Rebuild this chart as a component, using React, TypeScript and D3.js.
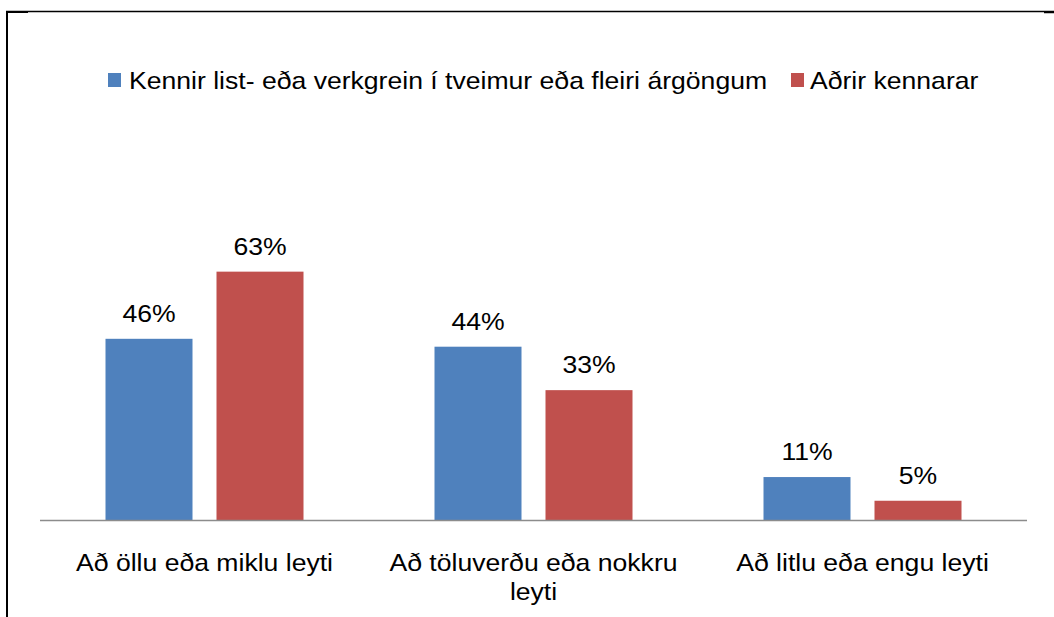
import React from "react";
import * as d3 from "d3";

const categories: string[][] = [
  ["Að öllu eða miklu leyti"],
  ["Að töluverðu eða nokkru", "leyti"],
  ["Að litlu eða engu leyti"],
];
const seriesNames = [
  "Kennir list- eða verkgrein í tveimur eða fleiri árgöngum",
  "Aðrir kennarar",
];
const seriesA = [46, 44, 11];
const seriesB = [63, 33, 5];
const colors = ["#4F81BD", "#C0504D"];

const W = 1054;
const H = 617;
const FS = 24;
const SX = 1.108;

export default function App() {
  const catKeys = categories.map((c) => c.join(" "));
  const x0 = d3.scaleBand<string>().domain(catKeys).range([40, 1027]);
  const x1 = d3
    .scaleBand<number>()
    .domain([0, 1])
    .range([65.5, x0.bandwidth() - 65.5])
    .paddingInner(24 / 111);
  const y = d3.scaleLinear().domain([0, 70]).range([520.5, 244]);
  const data = [seriesA, seriesB];
  const font = "'Liberation Sans', Arial, sans-serif";

  const T = (props: { x: number; y: number; anchor?: string; children: React.ReactNode }) => (
    <text
      transform={`translate(${props.x},${props.y}) scale(${SX},1)`}
      textAnchor={props.anchor || "middle"}
      fontFamily={font}
      fontSize={FS}
      fill="#000"
    >
      {props.children}
    </text>
  );

  const legendItems = [
    { sx: 108, tx: 129 },
    { sx: 791, tx: 810 },
  ];

  return (
    <svg
      width={W}
      height={H}
      style={{ position: "absolute", left: 0, top: 0, background: "#fff" }}
    >
      <rect x={0} y={0} width={W} height={H} fill="#fff" />
      {/* border */}
      <line x1={6} x2={W} y1={11.5} y2={11.5} stroke="#000" strokeWidth={1.5} />
      <line x1={6} x2={28} y1={12} y2={12} stroke="#000" strokeWidth={2} />
      <line x1={1044} x2={W} y1={12.5} y2={12.5} stroke="#000" strokeWidth={1.5} />
      <line x1={7} x2={7} y1={11} y2={H} stroke="#000" strokeWidth={2} />
      {/* legend */}
      {seriesNames.map((s, i) => (
        <g key={s}>
          <rect x={legendItems[i].sx} y={73} width={13} height={14} fill={colors[i]} />
          <T x={legendItems[i].tx} y={89} anchor="start">
            {s}
          </T>
        </g>
      ))}
      {/* bars */}
      {catKeys.map((c, ci) => (
        <g key={c} transform={`translate(${x0(c)},0)`}>
          {data.map((vals, si) => {
            const bx = x1(si)!;
            const bw = x1.bandwidth();
            const v = vals[ci];
            return (
              <g key={si}>
                <rect
                  x={bx}
                  y={y(v)}
                  width={bw}
                  height={y(0) - y(v)}
                  fill={colors[si]}
                />
                <T x={bx + bw / 2} y={y(v) - 17}>
                  {v}%
                </T>
              </g>
            );
          })}
        </g>
      ))}
      {/* baseline */}
      <line x1={40} x2={1027} y1={520.5} y2={520.5} stroke="#8C8C8C" strokeWidth={1.5} />
      {/* category labels */}
      {categories.map((lines, ci) => {
        const cx = x0(catKeys[ci])! + x0.bandwidth() / 2;
        return lines.map((ln, li) => (
          <T key={ci + "-" + li} x={cx} y={571 + li * 29}>
            {ln}
          </T>
        ));
      })}
    </svg>
  );
}
